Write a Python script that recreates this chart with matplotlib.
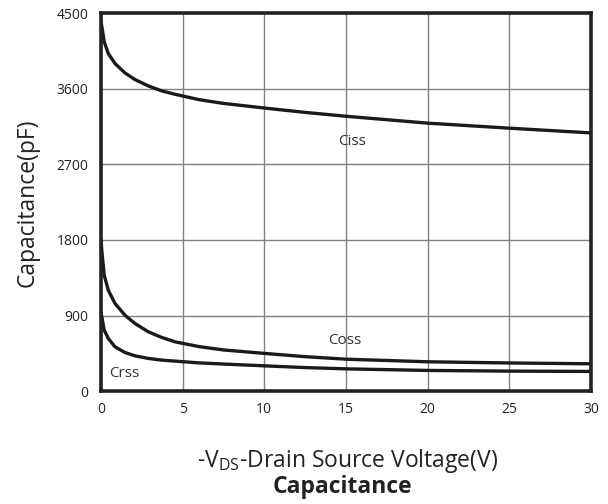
import matplotlib
matplotlib.use("Agg")
import matplotlib.pyplot as plt

plt.rcParams["font.family"] = ["Open Sans", "DejaVu Sans"]
plt.rcParams["mathtext.fontset"] = "custom"
plt.rcParams["mathtext.rm"] = "Open Sans"

# values (V, pF)
volts = [0, 0.08, 0.2, 0.45, 0.86, 1.47, 2.08, 2.9, 3.72, 4.53, 6, 7.5, 10, 12.5, 15, 20, 25, 30]
ciss = [4400, 4310, 4160, 4019, 3900, 3788, 3709, 3633, 3574, 3534, 3470, 3425, 3370, 3318, 3272, 3190, 3130, 3074]
coss = [1800, 1618, 1380, 1202, 1044, 904, 805, 706, 639, 587, 530, 490, 449, 410, 380, 349, 335, 325]
crss = [930, 860, 726, 627, 527, 460, 420, 389, 369, 357, 336, 322, 301, 280, 265, 246, 238, 234]

xticks = [0, 5, 10, 15, 20, 25, 30]
yticks = [0, 900, 1800, 2700, 3600, 4500]

fig = plt.figure(figsize=(6.08, 5.04), dpi=100)
ax = fig.add_axes([0.166, 0.224, 0.806, 0.750])

for c in (ciss, coss, crss):
    ax.plot(volts, c, color="#1a1a1a", lw=2.4, zorder=3)

ax.set_xlim(0, 30); ax.set_ylim(0, 4500)
ax.set_xticks(xticks); ax.set_yticks(yticks)
ax.grid(True, color="#808080", lw=1.0)
ax.tick_params(axis="y", length=0, labelsize=10, pad=9, colors="#222222")
ax.tick_params(axis="x", length=0, labelsize=10, pad=8, colors="#222222")
for s in ax.spines.values():
    s.set_linewidth(2.6); s.set_color("#222222"); s.set_zorder(4)

ax.text(15.4, 2975, "Ciss", fontsize=11, ha="center", va="center", color="#333333")
ax.text(14.9, 607, "Coss", fontsize=11, ha="center", va="center", color="#333333")
ax.text(1.4, 214, "Crss", fontsize=11, ha="center", va="center", color="#333333")

fig.text(0.046, 0.598, "Capacitance(pF)", fontsize=16.5, rotation=90,
         ha="center", va="center", color="#222222")
fig.text(0.571, 0.0734, r"-V$_{\mathregular{DS}}$-Drain Source Voltage(V)", fontsize=16.5,
         ha="center", va="baseline", color="#222222")
fig.text(0.564, 0.0218, "Capacitance", fontsize=16.5, fontweight="bold",
         ha="center", va="baseline", color="#222222")

fig.savefig("out.png", dpi=100)
